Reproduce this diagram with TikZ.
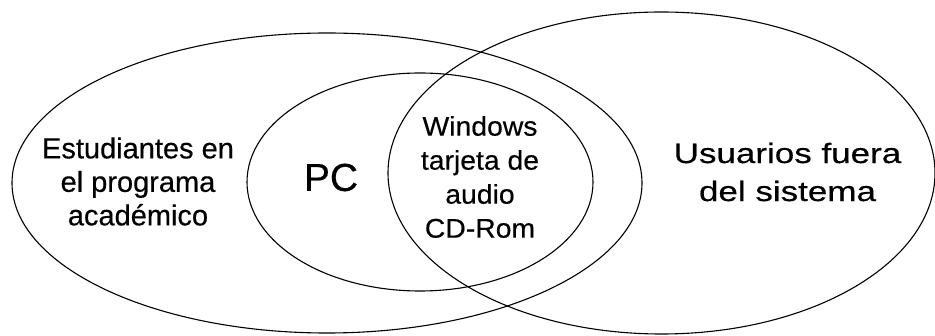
\documentclass[tikz,border=0pt]{standalone}
\usepackage{fontspec}
\setmainfont[FakeBold=0.4]{Liberation Sans}
\newfontfamily\midfont[FakeStretch=1.05,FakeBold=0.4]{Liberation Sans}
\newfontfamily\rightfont[FakeStretch=1.25,FakeBold=0.4]{Liberation Sans}
\begin{document}
\begin{tikzpicture}[x=1pt,y=-1pt,line width=1.1pt,
  lbl/.style={inner sep=0pt,align=center}]
\useasboundingbox (0,0) rectangle (935,336);
% sets
\draw (327,183) ellipse [x radius=315pt, y radius=150pt];
\draw (661.5,173) ellipse [x radius=273.5pt, y radius=161pt];
\draw (420,182) ellipse [x radius=173pt, y radius=109pt];
% labels
\node[lbl,font=\fontsize{29}{33.5}\selectfont] (est) at (138,181.5) {Estudiantes en\\el programa\\académico};
\node[lbl,font=\fontsize{39}{45}\selectfont] (pc) at (331,177.5) {PC};
\node[lbl,font=\midfont\fontsize{27}{34}\selectfont] (mid) at (480,177) {Windows\\tarjeta de\\audio\\CD-Rom};
\node[lbl,font=\rightfont\fontsize{28}{38}\selectfont] (usu) at (787.5,172) {Usuarios fuera\\del sistema};
\end{tikzpicture}
\end{document}
